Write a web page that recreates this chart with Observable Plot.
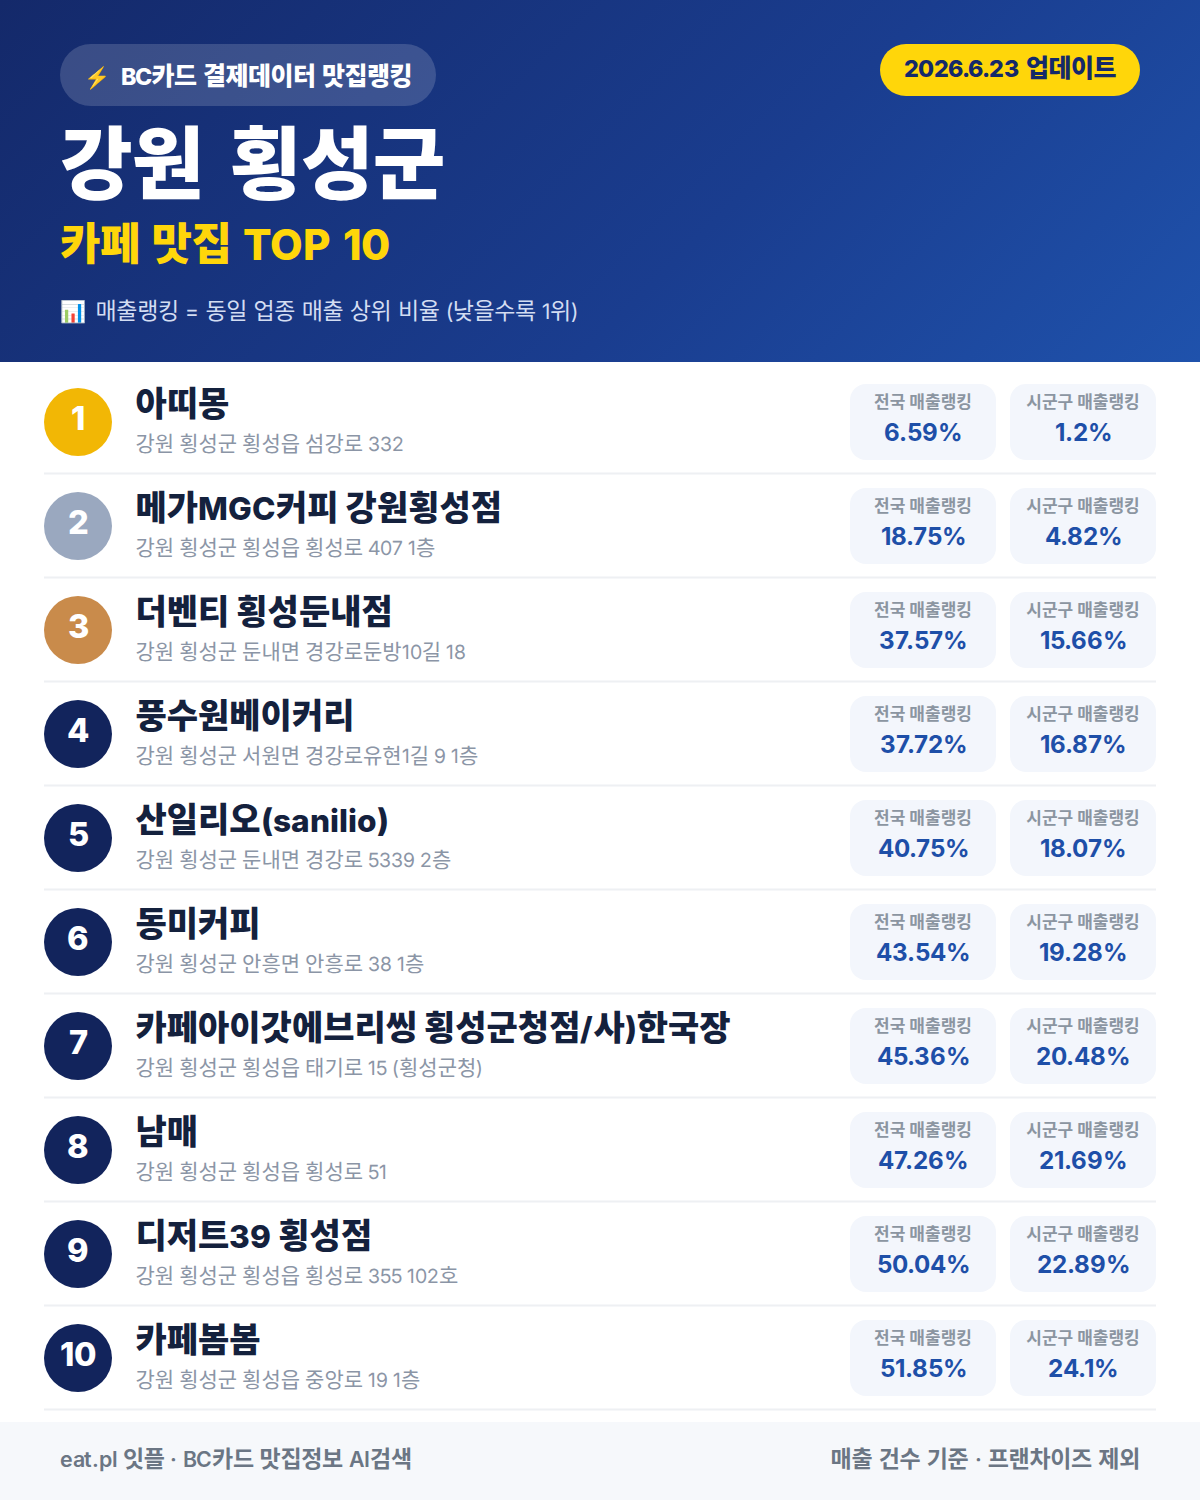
<!DOCTYPE html>
<html lang="ko">
<head>
<meta charset="utf-8">
<script src="https://cdn.jsdelivr.net/npm/d3@7"></script>
<script src="https://cdn.jsdelivr.net/npm/@observablehq/plot@0.6"></script>
<style>
@font-face{font-family:"LatinAdj";src:local("Inter Regular"),local("Inter-Regular"),local("Inter Variable"),local("Inter");font-weight:400;size-adjust:93%;unicode-range:U+0020-007E,U+00B7;}
@font-face{font-family:"LatinAdj";src:local("Inter SemiBold"),local("Inter-SemiBold"),local("Inter Semi Bold");font-weight:600;size-adjust:93%;unicode-range:U+0020-007E,U+00B7;}
@font-face{font-family:"LatinAdj";src:local("Inter Bold"),local("Inter-Bold");font-weight:700;size-adjust:93%;unicode-range:U+0020-007E,U+00B7;}
@font-face{font-family:"LatinAdj";src:local("Inter ExtraBold"),local("Inter-ExtraBold"),local("Inter Extra Bold");font-weight:800;size-adjust:93%;unicode-range:U+0020-007E,U+00B7;}
@font-face{font-family:"LatinAdj";src:local("Inter Black"),local("Inter-Black");font-weight:900;size-adjust:93%;unicode-range:U+0020-007E,U+00B7;}
html,body{margin:0;padding:0;background:#fff;}
body{width:1200px;height:1500px;position:relative;overflow:hidden;font-family:"LatinAdj","Noto Sans CJK KR",sans-serif;}
.abs{position:absolute;white-space:nowrap;}
#header{position:absolute;left:0;top:0;width:1200px;height:362px;background:linear-gradient(135deg,#14296a 0%,#1a3d8f 60%,#1f52ac 100%);}
#pill{left:60px;top:44px;width:376px;height:62px;border-radius:31px;background:rgba(255,255,255,.16);}
#pillText{left:84px;top:61px;font-size:25px;line-height:32px;font-weight:800;color:#fff;letter-spacing:-.5px;word-spacing:2px;}
#pillText span{margin-right:11px;font-size:21px;}
#update{left:880px;top:44px;width:260px;height:52px;border-radius:26px;background:#ffd60a;color:#14296a;font-size:25px;font-weight:800;line-height:49px;text-align:center;letter-spacing:-.5px;word-spacing:3px;}
#title{left:60px;top:121px;font-size:79px;line-height:92px;font-weight:900;color:#fff;letter-spacing:-1px;word-spacing:14px;}
#sub{left:60px;top:215px;font-size:44px;line-height:60px;font-weight:900;color:#ffd60a;letter-spacing:-.5px;word-spacing:4px;}
#sub b{font-size:45.5px;font-weight:800;}
#note{left:60px;top:295px;font-size:23px;line-height:32px;font-weight:400;color:#d3ddf2;letter-spacing:-.4px;word-spacing:1px;}
#note span{margin-right:10px;font-size:21px;}
#chart{position:absolute;left:0;top:362px;}
#footer{position:absolute;left:0;top:1422px;width:1200px;height:78px;background:#f6f8fb;}
.foot{top:20px;font-size:23px;line-height:34px;font-weight:600;color:#6b7684;letter-spacing:-.3px;}
</style>
</head>
<body>
<div id="header"></div>
<div id="chart"></div>
<div id="footer"></div>
<script>
const ranks = [1,2,3,4,5,6,7,8,9,10];
const names = ["아띠몽","메가MGC커피 강원횡성점","더벤티 횡성둔내점","풍수원베이커리","산일리오(sanilio)","동미커피","카페아이갓에브리씽 횡성군청점/사)한국장","남매","디저트39 횡성점","카페봄봄"];
const addresses = ["강원 횡성군 횡성읍 섬강로 332","강원 횡성군 횡성읍 횡성로 407 1층","강원 횡성군 둔내면 경강로둔방10길 18","강원 횡성군 서원면 경강로유현1길 9 1층","강원 횡성군 둔내면 경강로 5339 2층","강원 횡성군 안흥면 안흥로 38 1층","강원 횡성군 횡성읍 태기로 15 (횡성군청)","강원 횡성군 횡성읍 횡성로 51","강원 횡성군 횡성읍 횡성로 355 102호","강원 횡성군 횡성읍 중앙로 19 1층"];
const national = [6.59,18.75,37.57,37.72,40.75,43.54,45.36,47.26,50.04,51.85];
const local = [1.2,4.82,15.66,16.87,18.07,19.28,20.48,21.69,22.89,24.1];
const badgeColors = ["#f2b705","#9aa8bf","#c98b4b","#12245c","#12245c","#12245c","#12245c","#12245c","#12245c","#12245c"];
const nationalLabel = "전국 매출랭킹";
const localLabel = "시군구 매출랭킹";
const headerTexts = {pill:"BC카드 결제데이터 맛집랭킹", update:"2026.6.23 업데이트", title:"강원 횡성군", subKo:"카페 맛집", subEn:"TOP 10", note:"매출랭킹 = 동일 업종 매출 상위 비율 (낮을수록 1위)"};
const footerTexts = ["eat.pl 잇플 · BC카드 맛집정보 AI검색","매출 건수 기준 · 프랜차이즈 제외"];

const header = document.getElementById("header");
function add(parent,id,html,cls,style){const d=document.createElement("div");if(id)d.id=id;d.className="abs "+(cls||"");d.innerHTML=html;if(style)d.style.cssText=style;parent.appendChild(d);return d;}
add(header,"pill","");
add(header,"pillText",`<span>⚡</span>${headerTexts.pill}`);
add(header,"update",headerTexts.update);
add(header,"title",headerTexts.title);
add(header,"sub",`${headerTexts.subKo} <b>${headerTexts.subEn}</b>`);
add(header,"note",`<span>📊</span>${headerTexts.note}`);
const footer = document.getElementById("footer");
add(footer,null,footerTexts[0],"foot","left:60px;word-spacing:1px;");
add(footer,null,footerTexts[1],"foot","right:60px;word-spacing:1.6px;");

const rows = ranks.map((r,i)=>({rank:r,name:names[i],address:addresses[i],national:national[i],local:local[i],color:badgeColors[i]}));
const col = {badge:78,text:136,nat:923,loc:1083};
const font = '"LatinAdj","Noto Sans CJK KR",sans-serif';

const chart = Plot.plot({
  width:1200,height:1060,margin:0,
  style:{background:"transparent",fontFamily:font,overflow:"visible"},
  x:{domain:[0,1200],range:[0,1200],axis:null},
  y:{type:"band",domain:ranks,range:[8,1048],padding:0,axis:null},
  marks:[
    Plot.ruleY(rows,{y:"rank",x1:44,x2:1156,dy:51,stroke:"#eef0f3",strokeWidth:2}),
    Plot.barX(rows,{y:"rank",x1:850,x2:996,insetTop:14,insetBottom:14,rx:16,fill:"#f3f6fc"}),
    Plot.barX(rows,{y:"rank",x1:1010,x2:1156,insetTop:14,insetBottom:14,rx:16,fill:"#f3f6fc"}),
    Plot.dot(rows,{y:"rank",x:()=>col.badge,r:34,fill:d=>d.color,stroke:null,dx:-0.5,dy:-0.5}),
    Plot.text(rows,{y:"rank",x:()=>col.badge,text:d=>String(d.rank),fill:"#fff",fontSize:35,fontWeight:800,dy:-4,dx:-0.5}),
    Plot.text(rows,{y:"rank",x:()=>col.text,text:"name",textAnchor:"start",fill:"#14213d",fontSize:34,fontWeight:800,dy:-17,dx:-1,letterSpacing:"-0.5px"}),
    Plot.text(rows,{y:"rank",x:()=>col.text,text:"address",textAnchor:"start",fill:"#8b95a6",fontSize:21,fontWeight:400,dy:22,dx:-1,letterSpacing:"-0.4px"}),
    Plot.text(rows,{y:"rank",x:()=>col.nat,text:()=>nationalLabel,fill:"#8b95a1",fontSize:17,fontWeight:600,dy:-20,dx:-0.5}),
    Plot.text(rows,{y:"rank",x:()=>col.loc,text:()=>localLabel,fill:"#8b95a1",fontSize:17,fontWeight:600,dy:-20,dx:-0.5}),
    Plot.text(rows,{y:"rank",x:()=>col.nat,text:d=>d.national+"%",fill:"#1e4fa8",fontSize:26,fontWeight:700,dy:10,letterSpacing:"-1.5px"}),
    Plot.text(rows,{y:"rank",x:()=>col.loc,text:d=>d.local+"%",fill:"#1e4fa8",fontSize:26,fontWeight:700,dy:10,letterSpacing:"-1.5px"})
  ]
});
document.getElementById("chart").appendChild(chart);
</script>
</body>
</html>
